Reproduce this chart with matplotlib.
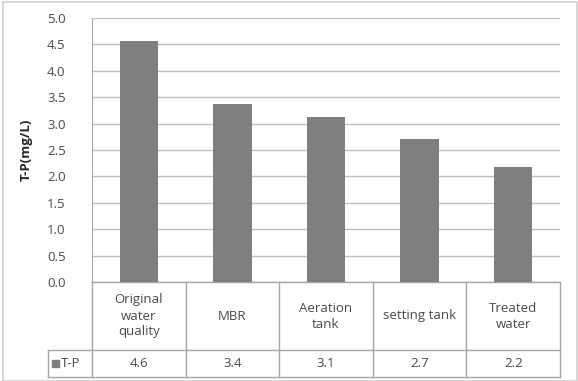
import numpy as np
import matplotlib.pyplot as plt
from matplotlib.patches import Rectangle

categories = ["Original\nwater\nquality", "MBR", "Aeration\ntank", "setting tank", "Treated\nwater"]
tp_values = [4.56, 3.38, 3.13, 2.71, 2.17]
tp_labels = ["4.6", "3.4", "3.1", "2.7", "2.2"]
series_name = "T-P"
y_ticks = [0.0, 0.5, 1.0, 1.5, 2.0, 2.5, 3.0, 3.5, 4.0, 4.5, 5.0]

plt.rcParams['font.family'] = ['Open Sans', 'DejaVu Sans']
W, H = 578, 381
fig = plt.figure(figsize=(W / 100, H / 100), dpi=100)

# plot area in pixels
L, R, T, B = 92, 560, 18, 282
ax = fig.add_axes([L / W, (H - B) / H, (R - L) / W, (B - T) / H])

bar_col = '#7f7f7f'
grid_col = '#bfbfbf'
line_col = '#a6a6a6'
text_col = '#4a4a4a'
fs = 9.5

x = np.arange(len(categories))
ax.bar(x, tp_values, width=0.41, color=bar_col, zorder=3)
ax.set_xlim(-0.5, len(categories) - 0.5)
ax.set_ylim(0, 5)
ax.set_yticks(y_ticks)
ax.set_yticklabels([f"{v:.1f}" for v in y_ticks], fontsize=fs, color=text_col)
ax.set_xticks([])
ax.yaxis.grid(True, color=grid_col, linewidth=1.0, zorder=0)
ax.tick_params(axis='y', length=0, pad=19)
for s in ['top', 'right', 'bottom']:
    ax.spines[s].set_visible(False)
ax.spines['left'].set_color(line_col)
ax.set_ylabel("T-P(mg/L)", fontsize=9.5, fontweight='bold', color='#262626', labelpad=10)

# data table below the axes
ph = B - T
y_cat = -(350 - B) / ph
y_dat = -(377 - B) / ph
x_leg = (48 - L) / (R - L)
tr = ax.transAxes
kw = dict(transform=tr, color=line_col, linewidth=1.0, clip_on=False)
ax.plot([0, 1], [0, 0], **kw)
ax.plot([x_leg, 1], [y_cat, y_cat], **kw)
ax.plot([x_leg, 1], [y_dat, y_dat], **kw)
ax.plot([x_leg, x_leg], [y_cat, y_dat], **kw)
n = len(categories)
for i in range(n + 1):
    ax.plot([i / n, i / n], [0, y_dat], **kw)
for i, (c, lab) in enumerate(zip(categories, tp_labels)):
    xc = (i + 0.5) / n
    ax.text(xc, y_cat / 2, c, transform=tr, ha='center', va='center',
            fontsize=fs, color=text_col, linespacing=1.3)
    ax.text(xc, (y_cat + y_dat) / 2, lab, transform=tr, ha='center', va='center',
            fontsize=fs, color=text_col)
ax.add_patch(Rectangle(((52 - L) / (R - L), (y_cat + y_dat) / 2 - 3.5 / ph), 7 / (R - L), 7 / ph,
                       transform=tr, color=bar_col, clip_on=False))
ax.text((61 - L) / (R - L), (y_cat + y_dat) / 2, series_name, transform=tr,
        ha='left', va='center', fontsize=fs, color=text_col)

# outer chart frame
fig.patches.append(Rectangle((2.5 / W, 0.5 / H), 574 / W, 379 / H, transform=fig.transFigure,
                             fill=False, edgecolor='#d0d0d0', linewidth=1.2))

fig.savefig("out.png", dpi=100)
